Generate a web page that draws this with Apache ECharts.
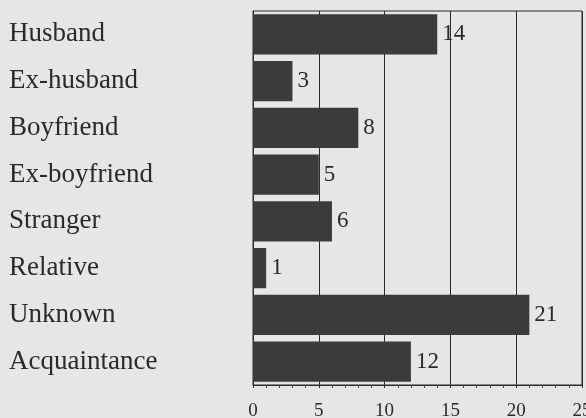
<!DOCTYPE html>
<html>
<head>
<meta charset="utf-8">
<script src="https://cdn.jsdelivr.net/npm/echarts@6/dist/echarts.min.js"></script>
<style>html,body{margin:0;padding:0;background:#e6e6e6;}#c{width:586px;height:418px;}</style>
</head>
<body>
<div id="c"></div>
<script>
const categories = ["Husband","Ex-husband","Boyfriend","Ex-boyfriend","Stranger","Relative","Unknown","Acquaintance"];
const values = [14,3,8,5,6,1,21,12];
const xTicks = [0,5,10,15,20,25];

const chart = echarts.init(document.getElementById('c'));
const font = '"Liberation Serif","DejaVu Serif",serif';
chart.setOption({
  backgroundColor: '#e6e6e6',
  animation: false,
  grid: {left: 253, right: 4, top: 11, bottom: 33, outerBoundsMode: 'none', containLabel: false, show: true, borderColor: '#2a2a2a', borderWidth: 1, backgroundColor: 'transparent'},
  xAxis: {
    type: 'value', min: xTicks[0], max: xTicks[xTicks.length-1], interval: 5,
    axisLine: {show: true, lineStyle: {color: '#2a2a2a', width: 1}},
    axisTick: {show: true, length: 3, lineStyle: {color: '#2a2a2a'}},
    minorTick: {show: true, splitNumber: 5, length: 3, lineStyle: {color: '#444'}},
    splitLine: {show: true, lineStyle: {color: '#2a2a2a', width: 1}},
    axisLabel: {color: '#2a2a2a', fontFamily: font, fontSize: 19, margin: 17, hideOverlap: false, showMaxLabel: true}
  },
  yAxis: {
    type: 'category', data: categories, inverse: true,
    axisLine: {show: true, lineStyle: {color: '#2a2a2a'}},
    axisTick: {show: false},
    axisLabel: {color: '#2a2a2a', fontFamily: font, fontSize: 27, align: 'left', margin: 244, interval: 0}
  },
  series: [{
    type: 'bar', data: values, barCategoryGap: '14%',
    itemStyle: {color: '#3b3b3b'},
    label: {show: true, position: 'right', distance: 5, color: '#2a2a2a', fontFamily: font, fontSize: 23}
  }]
});
</script>
</body>
</html>
